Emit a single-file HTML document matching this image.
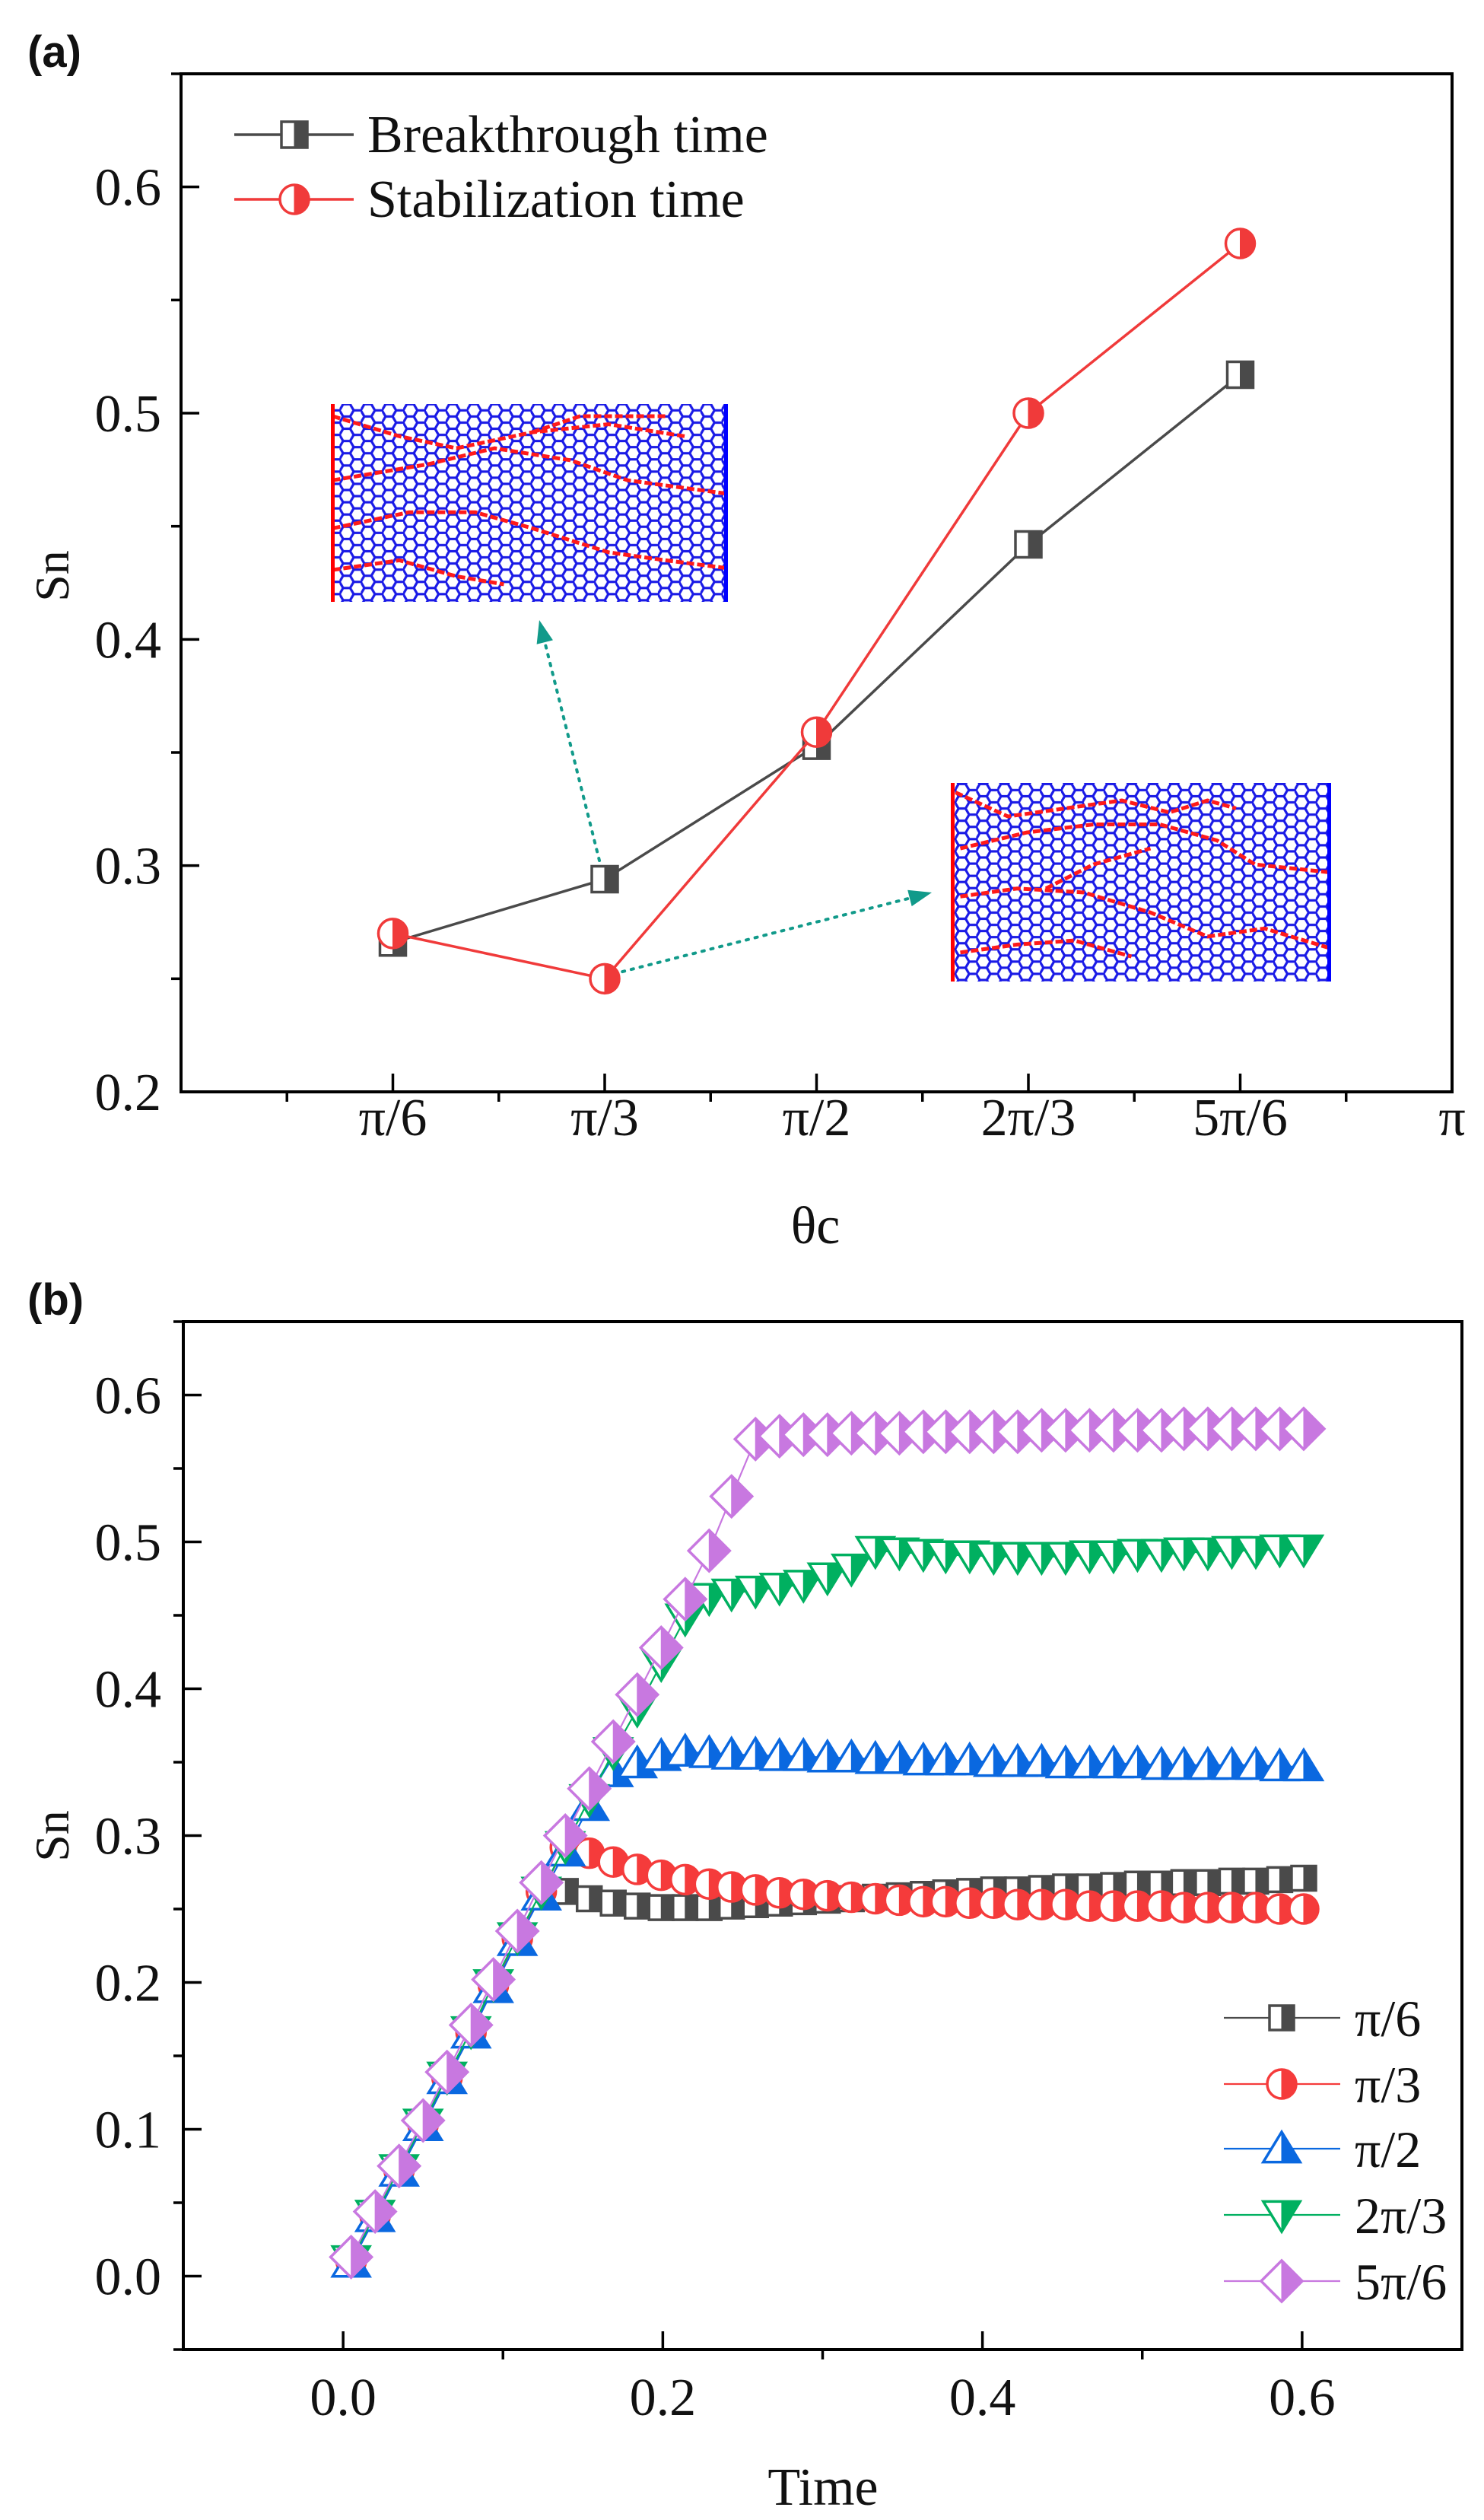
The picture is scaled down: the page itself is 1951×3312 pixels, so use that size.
<!DOCTYPE html>
<html><head><meta charset="utf-8">
<style>
html,body{margin:0;padding:0;background:#fff;}
svg{display:block;}
text{font-family:"Liberation Serif",serif;fill:#111;}
.lbl{font-family:"Liberation Sans",sans-serif;font-weight:bold;}
</style></head>
<body>
<svg id="fig" width="1951" height="3312" viewBox="0 0 1951 3312" xmlns="http://www.w3.org/2000/svg">
<defs>
<pattern id="hex" patternUnits="userSpaceOnUse" width="27.9" height="16.1">
<path d="M0,8.05 L4.65,0 L13.95,0 L18.6,8.05 L13.95,16.1 L4.65,16.1 Z M18.6,8.05 L27.9,8.05" fill="none" stroke="#1a1ae6" stroke-width="3.2"/>
</pattern>
</defs>
<text class="lbl" x="36" y="88" font-size="58">(a)</text>
<text class="lbl" x="36" y="1728" font-size="58">(b)</text>
<g id="pa"></g>
<g id="pb"></g>
</svg>
<script>
// ---- Panel (a) data ----
const aCategories = ["π/6","π/3","π/2","2π/3","5π/6"];
const aCatPos = [1,2,3,4,5];
const aXTickLabels = ["π/6","π/3","π/2","2π/3","5π/6","π"];
const aYTicks = [0.2,0.3,0.4,0.5,0.6];
const breakthrough = [0.266,0.294,0.353,0.442,0.517];
const stabilization = [0.270,0.250,0.359,0.500,0.575];

// ---- Panel (b) data ----
const bTimes = [0.005,0.020,0.035,0.050,0.065,0.080,0.094,0.109,0.124,0.139,0.154,0.169,0.184,0.199,0.214,0.229,0.243,0.258,0.273,0.288,0.303,0.318,0.333,0.348,0.363,0.377,0.392,0.407,0.422,0.437,0.452,0.467,0.482,0.497,0.512,0.526,0.541,0.556,0.571,0.586,0.601];
const bPi6 = [0.009,0.040,0.071,0.102,0.134,0.165,0.197,0.229,0.260,0.262,0.257,0.254,0.252,0.251,0.251,0.251,0.252,0.253,0.254,0.255,0.256,0.257,0.258,0.259,0.260,0.261,0.262,0.263,0.263,0.264,0.265,0.265,0.266,0.267,0.267,0.268,0.268,0.269,0.269,0.270,0.271];
const bPi3 = [0.010,0.041,0.072,0.103,0.135,0.166,0.198,0.230,0.262,0.292,0.288,0.282,0.277,0.273,0.270,0.267,0.265,0.263,0.261,0.260,0.259,0.258,0.257,0.256,0.255,0.255,0.254,0.254,0.253,0.253,0.253,0.252,0.252,0.252,0.252,0.251,0.251,0.251,0.251,0.250,0.250];
const bPi2 = [0.009,0.040,0.071,0.102,0.134,0.165,0.196,0.228,0.259,0.289,0.320,0.343,0.349,0.354,0.357,0.356,0.355,0.355,0.354,0.354,0.353,0.353,0.352,0.352,0.351,0.351,0.351,0.350,0.350,0.350,0.349,0.349,0.349,0.349,0.348,0.348,0.348,0.348,0.348,0.347,0.347];
const b2Pi3 = [0.011,0.042,0.073,0.104,0.136,0.167,0.199,0.231,0.262,0.293,0.325,0.357,0.386,0.417,0.448,0.462,0.465,0.467,0.469,0.471,0.476,0.482,0.494,0.493,0.492,0.491,0.491,0.490,0.490,0.490,0.490,0.491,0.491,0.492,0.492,0.493,0.493,0.494,0.494,0.495,0.495];
const b5Pi6 = [0.013,0.044,0.075,0.106,0.139,0.171,0.202,0.235,0.268,0.300,0.332,0.364,0.396,0.428,0.461,0.494,0.531,0.570,0.572,0.573,0.573,0.574,0.574,0.574,0.575,0.575,0.575,0.575,0.575,0.576,0.576,0.576,0.576,0.576,0.576,0.577,0.577,0.577,0.577,0.577,0.577];
const bNames = ["π/6","π/3","π/2","2π/3","5π/6"];
const bXTicks = [0.0,0.2,0.4,0.6];
const bYTicks = [0.0,0.1,0.2,0.3,0.4,0.5,0.6];

const NS="http://www.w3.org/2000/svg";
function mk(parent,tag,attrs,txt){const e=document.createElementNS(NS,tag);for(const k in attrs)e.setAttribute(k,attrs[k]);if(txt!==undefined)e.textContent=txt;parent.appendChild(e);return e;}

function marker(g,shape,x,y,col,s){
  let full,half;
  if(shape==="sq"){const h=s;full=`M${x-h},${y-h}H${x+h}V${y+h}H${x-h}Z`;half=`M${x},${y-h}H${x+h}V${y+h}H${x}Z`;}
  else if(shape==="ci"){full=`M${x},${y-s}A${s},${s} 0 1 1 ${x},${y+s}A${s},${s} 0 1 1 ${x},${y-s}Z`;half=`M${x},${y-s}A${s},${s} 0 0 1 ${x},${y+s}Z`;}
  else if(shape==="tu"){const w=s*1.1,h=s;full=`M${x},${y-h}L${x+w},${y+h*0.8}L${x-w},${y+h*0.8}Z`;half=`M${x},${y-h}L${x+w},${y+h*0.8}L${x},${y+h*0.8}Z`;}
  else if(shape==="td"){const w=s*1.1,h=s;full=`M${x-w},${y-h*0.8}L${x+w},${y-h*0.8}L${x},${y+h}Z`;half=`M${x},${y-h*0.8}L${x+w},${y-h*0.8}L${x},${y+h}Z`;}
  else {full=`M${x},${y-s}L${x+s},${y}L${x},${y+s}L${x-s},${y}Z`;half=`M${x},${y-s}L${x+s},${y}L${x},${y+s}Z`;}
  const m=mk(g,"g",{});
  
  
  mk(m,"path",{d:full,fill:"#fff",stroke:col,"stroke-width":3.5,"stroke-linejoin":"miter"});
  mk(m,"path",{d:half,fill:col,stroke:col,"stroke-width":1});
}

// ================= Panel A =================
(function(){
  const g=document.getElementById("pa");
  const L=238,R=1909,T=97,B=1435;
  const xmin=0,xmax=6,ymin=0.2,ymax=0.65;
  const X=v=>L+(v-xmin)/(xmax-xmin)*(R-L);
  const Y=v=>B-(v-ymin)/(ymax-ymin)*(B-T);
  function inset(x0,y0,x1,y1,paths,name){
    const ig=mk(g,"g",{});
    
    
    mk(ig,"rect",{x:x0,y:y0,width:x1-x0,height:y1-y0,fill:"url(#hex)"});
    paths.forEach(p=>{
      let d="";
      for(let i=0;i<p.length;i++){const px=p[i][0]*1.25,py=p[i][1]*1.052;d+=(i?"L":"M")+px+","+py;}
      mk(ig,"path",{d:d,fill:"none",stroke:"#ff1a1a","stroke-width":5,"stroke-dasharray":"10 4","stroke-linejoin":"round"});
    });
    mk(ig,"rect",{x:x0,y:y0,width:5,height:y1-y0,fill:"#ff0000"});
    mk(ig,"rect",{x:x1-5,y:y0,width:5,height:y1-y0,fill:"#0000ff"});
  }
  inset(435,531,957,791,[
    [[350,520],[420,545],[480,560],[560,540],[640,530],[720,545]],
    [[350,600],[450,580],[520,560],[600,575],[660,600],[766,617]],
    [[350,660],[430,640],[500,640],[560,660],[640,690],[700,700],[766,710]],
    [[350,712],[420,700],[480,720],[530,730]],
    [[560,540],[610,520],[700,520]]
  ],"inset-lattice-1");
  inset(1250,1029,1750,1290,[
    [[1005,990],[1060,1020],[1120,1010],[1180,1000],[1230,1015],[1270,1000],[1300,1010]],
    [[1010,1060],[1080,1040],[1150,1030],[1220,1030],[1280,1050],[1320,1080],[1400,1090]],
    [[1010,1120],[1070,1110],[1140,1115],[1210,1140],[1270,1170],[1330,1160],[1400,1185]],
    [[1010,1190],[1070,1180],[1130,1175],[1190,1195]],
    [[1100,1110],[1150,1080],[1210,1060]]
  ],"inset-lattice-2");
  function arrow(x1,y1,x2,y2,name){
    const ag=mk(g,"g",{});
    
    
    const ang=Math.atan2(y2-y1,x2-x1),len=30;
    const bx=x2-len*Math.cos(ang),by=y2-len*Math.sin(ang);
    mk(ag,"line",{x1:x1,y1:y1,x2:bx,y2:by,stroke:"#119a8a","stroke-width":4,"stroke-dasharray":"3 9","stroke-linecap":"round"});
    const px=-Math.sin(ang)*11,py=Math.cos(ang)*11;
    mk(ag,"path",{d:`M${x2},${y2}L${bx+px},${by+py}L${bx-px},${by-py}Z`,fill:"#119a8a"});
  }
  arrow(795,1283,1225,1173,"arrow-to-inset-2");
  arrow(788,1131,709,815,"arrow-to-inset-1");
  const fr=mk(g,"rect",{x:L,y:T,width:R-L,height:B-T,fill:"none",stroke:"#000","stroke-width":4});
  
  
  for(let i=0;i<=12;i++){const v=i*0.5;const x=X(v);
    if(i%2===0) mk(g,"line",{x1:x,y1:B,x2:x,y2:B-24,stroke:"#000","stroke-width":3.5});
    else mk(g,"line",{x1:x,y1:B,x2:x,y2:B+13,stroke:"#000","stroke-width":3.5});}
  aXTickLabels.forEach((s,i)=>{const t=mk(g,"text",{x:X(i+1),y:1492,"font-size":70,"text-anchor":"middle"},s);
    
    });
  for(let k=4;k<=13;k++){const v=k*0.05;const y=Y(v);
    if(k%2===0) mk(g,"line",{x1:L,y1:y,x2:L+24,y2:y,stroke:"#000","stroke-width":3.5});
    else mk(g,"line",{x1:L-13,y1:y,x2:L,y2:y,stroke:"#000","stroke-width":3.5});}
  aYTicks.forEach(v=>{const t=mk(g,"text",{x:212,y:Y(v)+24,"font-size":70,"text-anchor":"end"},v.toFixed(1));
    
    });
  const yl=mk(g,"text",{x:0,y:0,"font-size":64,"text-anchor":"middle",transform:"translate(90,757) rotate(-90)"},"Sn");
  
  
  const xl=mk(g,"text",{x:1072,y:1634,"font-size":70,"text-anchor":"middle"},"θc");
  
  
  function series(vals,col,shape,size,name){
    const sg=mk(g,"g",{});
    
    
    const pts=vals.map((v,i)=>X(aCatPos[i])+","+Y(v)).join(" ");
    mk(sg,"polyline",{points:pts,fill:"none",stroke:col,"stroke-width":3.5});
    vals.forEach((v,i)=>marker(sg,shape,X(aCatPos[i]),Y(v),col,size));
  }
  series(breakthrough,"#4a4a4a","sq",17,"series-breakthrough");
  series(stabilization,"#f03a3a","ci",19,"series-stabilization");
  const lg=mk(g,"g",{});
  
  
  [["Breakthrough time","#4a4a4a","sq",17,177],["Stabilization time","#f03a3a","ci",19,262]].forEach(e=>{
    const en=mk(lg,"g",{});
    
    
    mk(en,"line",{x1:308,y1:e[4],x2:465,y2:e[4],stroke:e[1],"stroke-width":3.5});
    marker(en,e[2],387,e[4],e[1],e[3]);
    mk(en,"text",{x:483,y:e[4]+23,"font-size":70},e[0]);
  });
})();

// ================= Panel B =================
(function(){
  const g=document.getElementById("pb");
  const L=241,R=1922,T=1737,B=3088;
  const xmin=-0.1,xmax=0.7,ymin=-0.05,ymax=0.65;
  const X=v=>L+(v-xmin)/(xmax-xmin)*(R-L);
  const Y=v=>B-(v-ymin)/(ymax-ymin)*(B-T);
  const fr=mk(g,"rect",{x:L,y:T,width:R-L,height:B-T,fill:"none",stroke:"#000","stroke-width":4});
  
  
  for(let i=0;i<=6;i++){const v=i*0.1;const x=X(v);
    if(i%2===0) mk(g,"line",{x1:x,y1:B,x2:x,y2:B-24,stroke:"#000","stroke-width":3.5});
    else mk(g,"line",{x1:x,y1:B,x2:x,y2:B+13,stroke:"#000","stroke-width":3.5});}
  bXTicks.forEach(v=>{const t=mk(g,"text",{x:X(v),y:3174,"font-size":70,"text-anchor":"middle"},v.toFixed(1));
    
    });
  for(let k=-1;k<=13;k++){const v=k*0.05;const y=Y(v);
    if(k%2===0) mk(g,"line",{x1:L,y1:y,x2:L+24,y2:y,stroke:"#000","stroke-width":3.5});
    else mk(g,"line",{x1:L-13,y1:y,x2:L,y2:y,stroke:"#000","stroke-width":3.5});}
  bYTicks.forEach(v=>{const t=mk(g,"text",{x:212,y:Y(v)+24,"font-size":70,"text-anchor":"end"},v.toFixed(1));
    
    });
  const yl=mk(g,"text",{x:0,y:0,"font-size":64,"text-anchor":"middle",transform:"translate(90,2413) rotate(-90)"},"Sn");
  
  
  const xl=mk(g,"text",{x:1082,y:3292,"font-size":70,"text-anchor":"middle"},"Time");
  
  
  const cfg=[[bPi6,"#4a4a4a","sq",16],[bPi3,"#f53b3b","ci",19],[bPi2,"#0a68e0","tu",22],[b2Pi3,"#00b060","td",22],[b5Pi6,"#c878e0","di",27]];
  cfg.forEach((c,si)=>{
    const sg=mk(g,"g",{});
    
    
    const pts=c[0].map((v,i)=>X(bTimes[i])+","+Y(v)).join(" ");
    mk(sg,"polyline",{points:pts,fill:"none",stroke:c[1],"stroke-width":2.2});
    c[0].forEach((v,i)=>marker(sg,c[2],X(bTimes[i]),Y(v),c[1],c[3]));
  });
  const lg=mk(g,"g",{});
  
  
  const ly=[2652,2739,2824,2911,2998];
  cfg.forEach((c,i)=>{
    const en=mk(lg,"g",{});
    
    
    mk(en,"line",{x1:1609,y1:ly[i],x2:1762,y2:ly[i],stroke:c[1],"stroke-width":2.2});
    marker(en,c[2],1685,ly[i],c[1],c[3]);
    mk(en,"text",{x:1781,y:ly[i]+24,"font-size":68},bNames[i]);
  });
})();
</script>
</body></html>
